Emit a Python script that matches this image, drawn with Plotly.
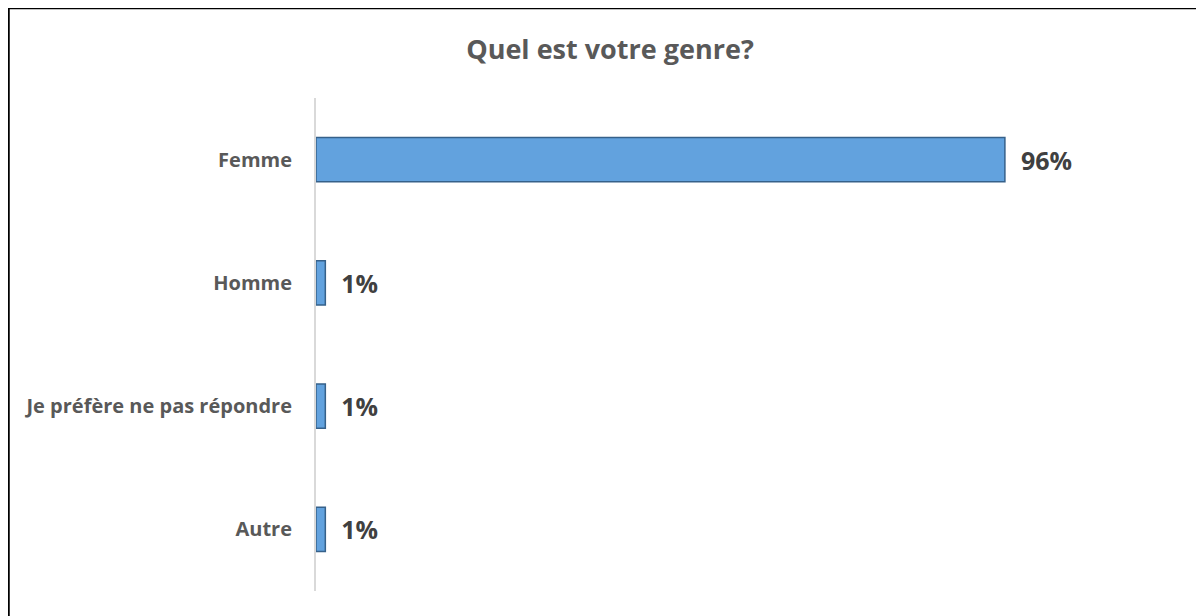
import plotly.graph_objects as go

categories = ["Femme", "Homme", "Je préfère ne pas répondre", "Autre"]
values = [0.96, 0.013, 0.013, 0.013]

W, H = 1204, 616
ML, MR, MT, MB = 308, 32, 90, 33
pw = W - ML - MR
ph = H - MT - MB

FONT = "Open Sans, Lato, sans-serif"

fig = go.Figure()
fig.add_trace(go.Bar(
    y=categories, x=values, orientation="h",
    marker=dict(color="#62A2DE", line=dict(color="#36618A", width=1.5)),
    width=0.36,
    text=values, texttemplate="  %{x:.0%}", textposition="outside",
    textfont=dict(family=FONT, size=25, color="#404040", weight="bold"),
    cliponaxis=False,
))

def px_x(p):
    return (p - ML) / pw

def px_y(p):
    return (H - MB - p) / ph

shapes = [
    dict(type="line", xref="paper", yref="paper", x0=px_x(0), x1=px_x(1210), y0=px_y(0), y1=px_y(0),
         line=dict(color="black", width=2.5)),
    dict(type="line", xref="paper", yref="paper", x0=px_x(0.5), x1=px_x(0.5), y0=px_y(0), y1=px_y(620),
         line=dict(color="black", width=2.5)),
]

fig.update_layout(
    width=W, height=H,
    margin=dict(l=ML, r=MR, t=MT, b=MB),
    paper_bgcolor="white", plot_bgcolor="white",
    title=dict(text="<b>Quel est votre genre?</b>", x=0.5, xref="container", xanchor="center",
               y=1 - 42 / H, yanchor="middle",
               font=dict(family=FONT, size=27, color="#595959")),
    showlegend=False,
    bargap=0.64,
    shapes=shapes,
    xaxis=dict(range=[0, 1.204], showgrid=False, zeroline=False, showticklabels=False,
               showline=False, fixedrange=True),
    yaxis=dict(autorange="reversed", showgrid=False, zeroline=False, showline=True,
               linecolor="#D9D9D9", linewidth=2, ticks="", ticklabelstandoff=18,
               tickfont=dict(family=FONT, size=20, color="#595959", weight="bold")),
)

fig.write_html("out.html")
